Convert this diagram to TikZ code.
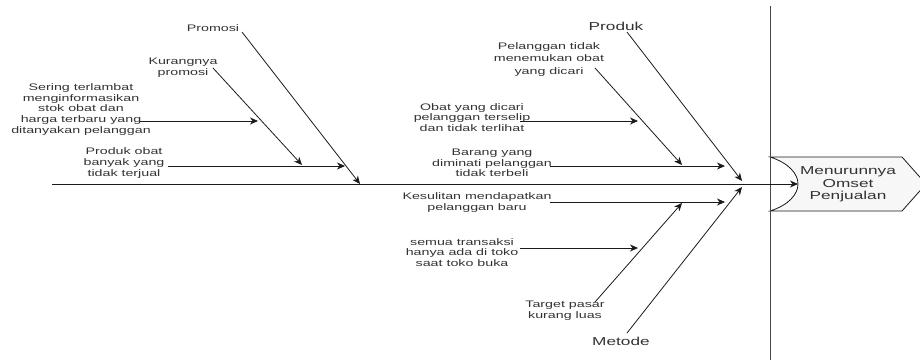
\documentclass[tikz,border=0pt]{standalone}
\usepackage{fontspec}
\setmainfont{Liberation Sans}[FakeStretch=1.5]
\usetikzlibrary{arrows.meta}
\definecolor{txt}{HTML}{333333}
\definecolor{ln}{HTML}{1A1A1A}
\definecolor{headfill}{HTML}{F7F7F7}
\begin{document}
\begin{tikzpicture}[x=1pt,y=-1pt,
  lbl/.style={font=\fontsize{9.5}{10.7}\selectfont, text=txt, align=center, inner sep=0pt},
  cat/.style={font=\fontsize{11.5}{13}\selectfont, text=txt, inner sep=0pt},
  arr/.style={draw=ln, line width=0.8pt, -{Stealth[length=8pt,width=7pt,inset=2.5pt]}},
  bar/.style={draw=ln!80, line width=1pt},
]
\useasboundingbox (0,0) rectangle (920,360);
\clip (0,0) rectangle (920,360);

% coordinates
\coordinate (tail) at (52,184);
\coordinate (effin) at (798,184);
\coordinate (vtop) at (770,6);
\coordinate (vbot) at (770,360);
\coordinate (promS) at (242,32);   \coordinate (promE) at (360,184);
\coordinate (kurS) at (213,68);    \coordinate (kurE) at (302,165);
\coordinate (serS) at (140,121);   \coordinate (serE) at (258,121);
\coordinate (prodS) at (168,166);  \coordinate (prodE) at (345,166);
\coordinate (produkS) at (627,32); \coordinate (produkE) at (742,181);
\coordinate (pelS) at (595,68);    \coordinate (pelE) at (682,165);
\coordinate (obatS) at (520,121);  \coordinate (obatE) at (638,121);
\coordinate (barS) at (550,166);   \coordinate (barE) at (725,166);
\coordinate (kesS) at (550,202);   \coordinate (kesE) at (725,202);
\coordinate (semS) at (520,248);   \coordinate (semE) at (638,248);
\coordinate (tgtS) at (595,302);   \coordinate (tgtE) at (682,203);
\coordinate (metS) at (627,333);   \coordinate (metE) at (742,187);

% effect shape
\filldraw[fill=headfill, draw=ln, line width=0.8pt]
  (770,157) -- (902,157) -- (926,184) -- (902,211) -- (770,211)
  .. controls (789,205) and (798,194) .. (798,184)
  .. controls (798,174) and (789,163) .. (770,157) -- cycle;
\node[lbl, font=\fontsize{11.5}{12.5}\selectfont] (effect) at (848,184.5) {Menurunnya\\Omset\\Penjualan};

% vertical separator
\draw[bar] (vtop) -- (vbot);

% spine
\draw[arr] (tail) -- (effin);

% labels
\node[lbl] (promosi) at (213,28) {Promosi};
\node[lbl] (kur) at (183,67.5) {Kurangnya\\promosi};
\node[lbl] (sering) at (81,109.5) {Sering terlambat\\menginformasikan\\stok obat dan\\harga terbaru yang\\ditanyakan pelanggan};
\node[lbl] (prodobat) at (124,163) {Produk obat\\banyak yang\\tidak terjual};
\node[cat] (produk) at (616,26) {Produk};
\node[lbl, font=\fontsize{9.5}{12.5}\selectfont] (pel) at (549,59.5) {Pelanggan tidak\\menemukan obat\\yang dicari};
\node[lbl] (obat) at (472,117.5) {Obat yang dicari\\pelanggan terselip\\dan tidak terlihat};
\node[lbl] (barang) at (492,163) {Barang yang\\diminati pelanggan\\tidak terbeli};
\node[lbl] (kes) at (477,202.5) {Kesulitan mendapatkan\\pelanggan baru};
\node[lbl] (semua) at (462,252.5) {semua transaksi\\hanya ada di toko\\saat toko buka};
\node[lbl] (target) at (565,310.5) {Target pasar\\kurang luas};
\node[cat] (metode) at (621,341) {Metode};

% bones
\draw[arr] (promS) -- (promE);
\draw[arr] (kurS) -- (kurE);
\draw[arr] (serS) -- (serE);
\draw[arr] (prodS) -- (prodE);
\draw[arr] (produkS) -- (produkE);
\draw[arr] (pelS) -- (pelE);
\draw[arr] (obatS) -- (obatE);
\draw[arr] (barS) -- (barE);
\draw[arr] (kesS) -- (kesE);
\draw[arr] (semS) -- (semE);
\draw[arr] (tgtS) -- (tgtE);
\draw[arr] (metS) -- (metE);
\end{tikzpicture}
\end{document}
